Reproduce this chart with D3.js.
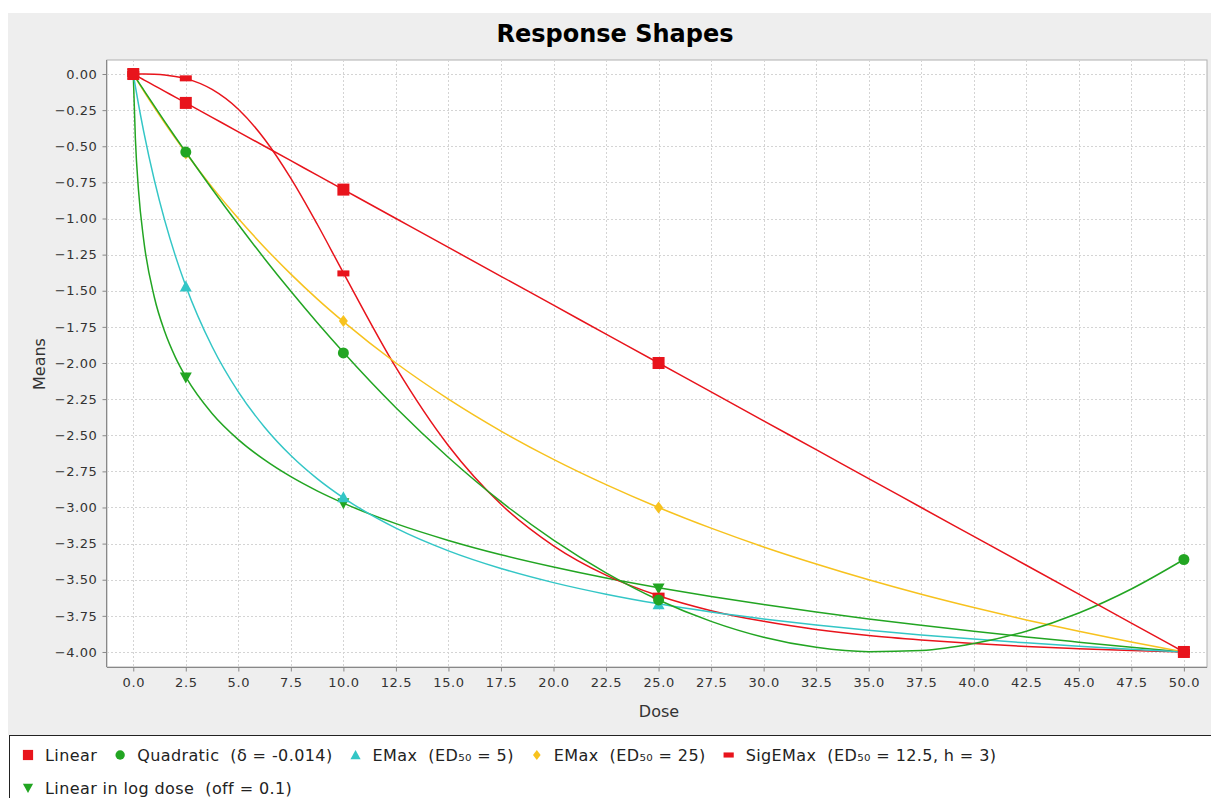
<!DOCTYPE html>
<html>
<head>
<meta charset="utf-8">
<script src="https://cdn.jsdelivr.net/npm/d3@7"></script>
<style>
body { margin: 0; background: #fff; }
text { font-family: "DejaVu Sans", sans-serif; white-space: pre; }
</style>
</head>
<body>
<script>
var width = 1211, height = 798;

// doses where the markers sit
var doses = [0, 2.5, 10, 25, 50];
var linearPts = [0, -0.2, -0.8, -2.0, -4.0];
var quadPts = [0, -0.54, -1.93, -3.64, -3.36];
var emax5Pts = [0, -1.47, -2.93, -3.67, -4.0];
var emax25Pts = [0, -0.55, -1.71, -3.0, -4.0];
var sigPts = [0, -0.03, -1.38, -3.61, -4.0];
var logPts = [0, -2.10, -2.97, -3.56, -4.0];

// curve values read along the dose axis
var curveDose = [0, 0.1, 0.25, 0.5, 1, 1.5, 2, 2.5, 3.75, 5, 6.25, 7.5, 8.75, 10, 12.5, 15, 17.5, 20, 22.5, 25, 27.5, 30, 32.5, 35, 37.5, 40, 42.5, 45, 47.5, 50];
var linearCurve = [0, -0.008, -0.02, -0.04, -0.08, -0.12, -0.16, -0.2, -0.3, -0.4, -0.5, -0.6, -0.7, -0.8, -1.0, -1.2, -1.4, -1.6, -1.8, -2.0, -2.2, -2.4, -2.6, -2.8, -3.0, -3.2, -3.4, -3.6, -3.8, -4.0];
var quadCurve = [0, -0.022, -0.056, -0.111, -0.221, -0.329, -0.436, -0.540, -0.796, -1.042, -1.278, -1.504, -1.720, -1.926, -2.310, -2.654, -2.960, -3.226, -3.452, -3.640, -3.788, -3.898, -3.968, -3.998, -3.990, -3.942, -3.856, -3.730, -3.564, -3.360];
var emax5Curve = [0, -0.086, -0.210, -0.400, -0.733, -1.015, -1.257, -1.467, -1.886, -2.200, -2.444, -2.640, -2.800, -2.933, -3.143, -3.300, -3.422, -3.520, -3.600, -3.667, -3.723, -3.771, -3.813, -3.850, -3.882, -3.911, -3.937, -3.960, -3.981, -4.000];
var emax25Curve = [0, -0.024, -0.059, -0.118, -0.231, -0.340, -0.444, -0.545, -0.783, -1.000, -1.200, -1.385, -1.556, -1.714, -2.000, -2.250, -2.471, -2.667, -2.842, -3.000, -3.143, -3.273, -3.391, -3.500, -3.600, -3.692, -3.778, -3.857, -3.931, -4.000];
var sigCurve = [0, 0, 0, -0.0003, -0.002, -0.007, -0.017, -0.032, -0.107, -0.244, -0.451, -0.722, -1.038, -1.376, -2.031, -2.573, -2.978, -3.265, -3.468, -3.611, -3.714, -3.788, -3.844, -3.886, -3.917, -3.942, -3.962, -3.977, -3.990, -4.000];
var logCurve = [0, -0.446, -0.806, -1.153, -1.543, -1.784, -1.959, -2.096, -2.349, -2.530, -2.671, -2.787, -2.885, -2.970, -3.112, -3.228, -3.327, -3.412, -3.488, -3.555, -3.616, -3.672, -3.724, -3.771, -3.815, -3.857, -3.896, -3.932, -3.967, -4.000];

var xTicks = d3.range(0, 50.01, 2.5);
var yTicks = d3.range(0, -4.01, -0.25);

var series = [
	{name: "Linear", color: "#e8141c", shape: "square", curve: linearCurve, pts: linearPts},
	{name: "Quadratic  (\u03b4 = -0.014)", color: "#22a522", shape: "circle", curve: quadCurve, pts: quadPts},
	{name: "EMax  (ED\u2085\u2080 = 5)", color: "#33c6c6", shape: "triUp", curve: emax5Curve, pts: emax5Pts},
	{name: "EMax  (ED\u2085\u2080 = 25)", color: "#f7c21e", shape: "diamond", curve: emax25Curve, pts: emax25Pts},
	{name: "SigEMax  (ED\u2085\u2080 = 12.5, h = 3)", color: "#e8141c", shape: "rect", curve: sigCurve, pts: sigPts},
	{name: "Linear in log dose  (off = 0.1)", color: "#22a522", shape: "triDown", curve: logCurve, pts: logPts}
];

var svg = d3.select("body")
	.append("svg")
	.attr("width", width)
	.attr("height", height);

// panel background
svg.append("rect").attr("x", 8).attr("y", 13).attr("width", width - 8).attr("height", 722).attr("fill", "#eeeeee");

var pLeft = 107, pRight = 1207, pTop = 60, pBottom = 667;
var x = d3.scaleLinear().domain([-1.25, 51.1]).range([pLeft, pRight]);
var y = d3.scaleLinear().domain([0.097, -4.104]).range([pTop, pBottom]);

svg.append("rect").attr("x", pLeft).attr("y", pTop).attr("width", pRight - pLeft).attr("height", pBottom - pTop)
	.attr("fill", "#fff").attr("stroke", "#b0b0b0").attr("stroke-width", 1);

// grid
var grid = svg.append("g").attr("stroke", "#d4d4d4").attr("stroke-dasharray", "2,2").attr("stroke-width", 1);
xTicks.forEach(function(t){
	grid.append("line").attr("x1", Math.round(x(t)) + 0.5).attr("x2", Math.round(x(t)) + 0.5).attr("y1", pTop).attr("y2", pBottom);
});
yTicks.forEach(function(t){
	grid.append("line").attr("y1", Math.round(y(t)) + 0.5).attr("y2", Math.round(y(t)) + 0.5).attr("x1", pLeft).attr("x2", pRight);
});

// axes
var xAxis = svg.append("g").attr("transform", "translate(0," + (pBottom + 0.5) + ")")
	.call(d3.axisBottom(x).tickValues(xTicks).tickFormat(d3.format(".1f")).tickSize(4).tickPadding(6));
var yAxis = svg.append("g").attr("transform", "translate(" + (pLeft - 0.5) + ",0)")
	.call(d3.axisLeft(y).tickValues(yTicks).tickFormat(d3.format(".2f")).tickSize(4).tickPadding(5));
[xAxis, yAxis].forEach(function(a){
	a.select(".domain").attr("stroke", "#888");
	a.selectAll(".tick line").attr("stroke", "#888");
	a.selectAll(".tick text").attr("fill", "#333").style("font-size", "13px").style("letter-spacing", "0.6px")
		.style("font-family", "DejaVu Sans");
});
xAxis.selectAll(".domain").attr("d", "M" + pLeft + ",0H" + pRight);
yAxis.selectAll(".domain").attr("d", "M0," + pTop + "V" + pBottom);

// titles
svg.append("text").attr("x", 615).attr("y", 42).attr("text-anchor", "middle")
	.style("font-size", "24px").style("font-weight", "bold").attr("fill", "#000").text("Response Shapes");
svg.append("text").attr("x", 659).attr("y", 717).attr("text-anchor", "middle")
	.style("font-size", "16px").attr("fill", "#333").text("Dose");
svg.append("text").attr("transform", "translate(45,364) rotate(-90)").attr("text-anchor", "middle")
	.style("font-size", "16px").attr("fill", "#333").text("Means");

// curves (first series drawn last, so it sits on top)
var line = d3.line().curve(d3.curveMonotoneX)
	.x(function(d){return x(d[0]);})
	.y(function(d){return y(d[1]);});

var drawOrder = series.slice().reverse();
var plot = svg.append("g");
drawOrder.forEach(function(s){
	plot.append("path")
		.datum(curveDose.map(function(d, i){return [d, s.curve[i]];}))
		.attr("d", line)
		.attr("fill", "none")
		.attr("stroke", s.color)
		.attr("stroke-width", 1.5);
});

function marker(g, shape, color){
	if(shape == "square"){
		g.append("rect").attr("x", -6).attr("y", -6).attr("width", 12).attr("height", 12).attr("fill", color);
	}else if(shape == "rect"){
		g.append("rect").attr("x", -6).attr("y", -3).attr("width", 12).attr("height", 6).attr("fill", color);
	}else if(shape == "circle"){
		g.append("circle").attr("r", 5.5).attr("fill", color);
	}else if(shape == "triUp"){
		g.append("path").attr("d", "M0,-6L6,5L-6,5Z").attr("fill", color);
	}else if(shape == "triDown"){
		g.append("path").attr("d", "M0,6L6,-5L-6,-5Z").attr("fill", color);
	}else if(shape == "diamond"){
		g.append("path").attr("d", "M0,-6L4.5,0L0,6L-4.5,0Z").attr("fill", color);
	}
}

drawOrder.forEach(function(s){
	doses.forEach(function(d, i){
		var g = plot.append("g").attr("transform", "translate(" + x(d) + "," + y(s.pts[i]) + ")");
		marker(g, s.shape, s.color);
	});
});

// legend
svg.append("rect").attr("x", 9.5).attr("y", 735.5).attr("width", width).attr("height", 80)
	.attr("fill", "#fff").attr("stroke", "#222").attr("stroke-width", 1);

var rows = [series.slice(0, 5), series.slice(5)];
var rowY = [755, 788];
rows.forEach(function(row, r){
	var lx = 28;
	row.forEach(function(s){
		var g = svg.append("g").attr("transform", "translate(" + lx + "," + rowY[r] + ")");
		var gm = g.append("g").attr("transform", "scale(0.85)");
		marker(gm, s.shape, s.color);
		var t = g.append("text").attr("x", 17).attr("dy", "0.36em")
			.style("font-size", "16px").style("letter-spacing", "0.4px").attr("fill", "#222").text(s.name);
		lx += 17 + t.node().getComputedTextLength() + 23;
	});
});
</script>
</body>
</html>
